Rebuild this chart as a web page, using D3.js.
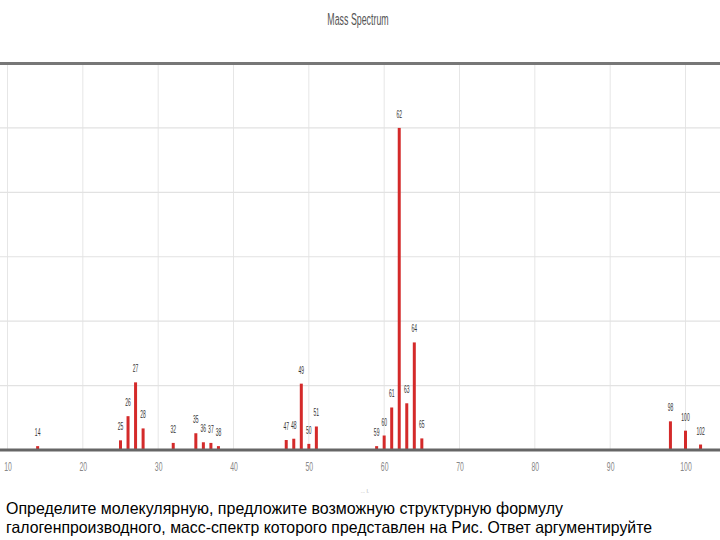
<!DOCTYPE html>
<html><head><meta charset="utf-8">
<script src="https://cdn.jsdelivr.net/npm/d3@7"></script>
<style>
body{margin:0;background:#fff;}
svg{display:block;}
</style></head>
<body>
<script>
const massValues = [14,25,26,27,28,32,35,36,37,38,47,48,49,50,51,59,60,61,62,63,64,65,98,100,102];
const intensities = [1.2,3,10.5,21,6.7,2.2,5.2,2.4,2.2,1.2,3.1,3.5,20.6,1.9,7.3,1.2,4.5,13.2,100,14.5,33.4,3.6,8.9,6,1.7];
const xTicks = [10,20,30,40,50,60,70,80,90,100];
const yTicks = [0,20,40,60,80,100,120];
const title = "Mass Spectrum";
const captionLines = ["Определите молекулярную, предложите возможную структурную формулу",
  "галогенпроизводного, масс-спектр которого представлен на Рис. Ответ аргументируйте"];

const W=720,H=540;
const svg=d3.select("body").append("svg").attr("width",W).attr("height",H);
const x=d3.scaleLinear().domain([10,100]).range([7.5,685.5]);
const y=d3.scaleLinear().domain([0,120]).range([450,63.5]);
const sans='"Liberation Sans",Arial,sans-serif';

// title (condensed)
svg.append("text").attr("transform","translate(358,25) scale(0.52,1)").attr("text-anchor","middle")
  .attr("font-family",sans).attr("font-size",17).attr("fill","#555").text(title);

// vertical grid
svg.append("g").selectAll("line").data(xTicks).join("line")
  .attr("x1",d=>x(d)).attr("x2",d=>x(d)).attr("y1",y(120)).attr("y2",y(0))
  .attr("stroke","#e6e6e6").attr("stroke-width",1);
// horizontal grid
svg.append("g").selectAll("line").data(yTicks.filter(d=>d>0&&d<120)).join("line")
  .attr("x1",0).attr("x2",W).attr("y1",d=>y(d)).attr("y2",d=>y(d))
  .attr("stroke","#e2e2e2").attr("stroke-width",1.2);
// top border
svg.append("line").attr("x1",0).attr("x2",W).attr("y1",y(120)).attr("y2",y(120))
  .attr("stroke","#777").attr("stroke-width",3);

// bars
svg.append("g").selectAll("rect").data(massValues).join("rect")
  .attr("x",d=>x(d)-1.5).attr("width",3)
  .attr("y",(d,i)=>y(intensities[i])).attr("height",(d,i)=>y(0)-y(intensities[i]))
  .attr("fill","#d42a2a");

// peak labels (condensed)
svg.append("g").selectAll("text").data(massValues).join("text")
  .attr("transform",(d,i)=>`translate(${x(d)},${y(intensities[i])-10}) scale(0.5,1)`)
  .attr("text-anchor","middle").attr("font-family",sans).attr("font-size",10)
  .attr("fill","#333").text(d=>d);

// baseline axis
svg.append("line").attr("x1",0).attr("x2",W).attr("y1",y(0)).attr("y2",y(0))
  .attr("stroke","#666").attr("stroke-width",3);

// x axis tick labels via d3 axis
const ax=svg.append("g").attr("transform",`translate(0,${y(0)+2})`)
  .call(d3.axisBottom(x).tickValues(xTicks).tickSize(0).tickPadding(10));
ax.select(".domain").remove();
ax.selectAll("text").attr("font-family",sans).attr("font-size",12.5).attr("fill","#888")
  .attr("x",0).attr("transform","scale(0.55,1)");

// tiny axis title remnant
svg.append("text").attr("x",365).attr("y",493).attr("text-anchor","middle")
  .attr("font-family",sans).attr("font-size",5).attr("fill","#aaa").text("... I.");

// caption
svg.append("g").selectAll("text").data(captionLines).join("text")
  .attr("x",6).attr("y",(d,i)=>514+i*18.5)
  .attr("textLength",(d,i)=>i===0?557:646).attr("lengthAdjust","spacingAndGlyphs")
  .attr("font-family",sans).attr("font-size",16.5)
  .attr("fill","#000").text(d=>d);
</script>
</body></html>
